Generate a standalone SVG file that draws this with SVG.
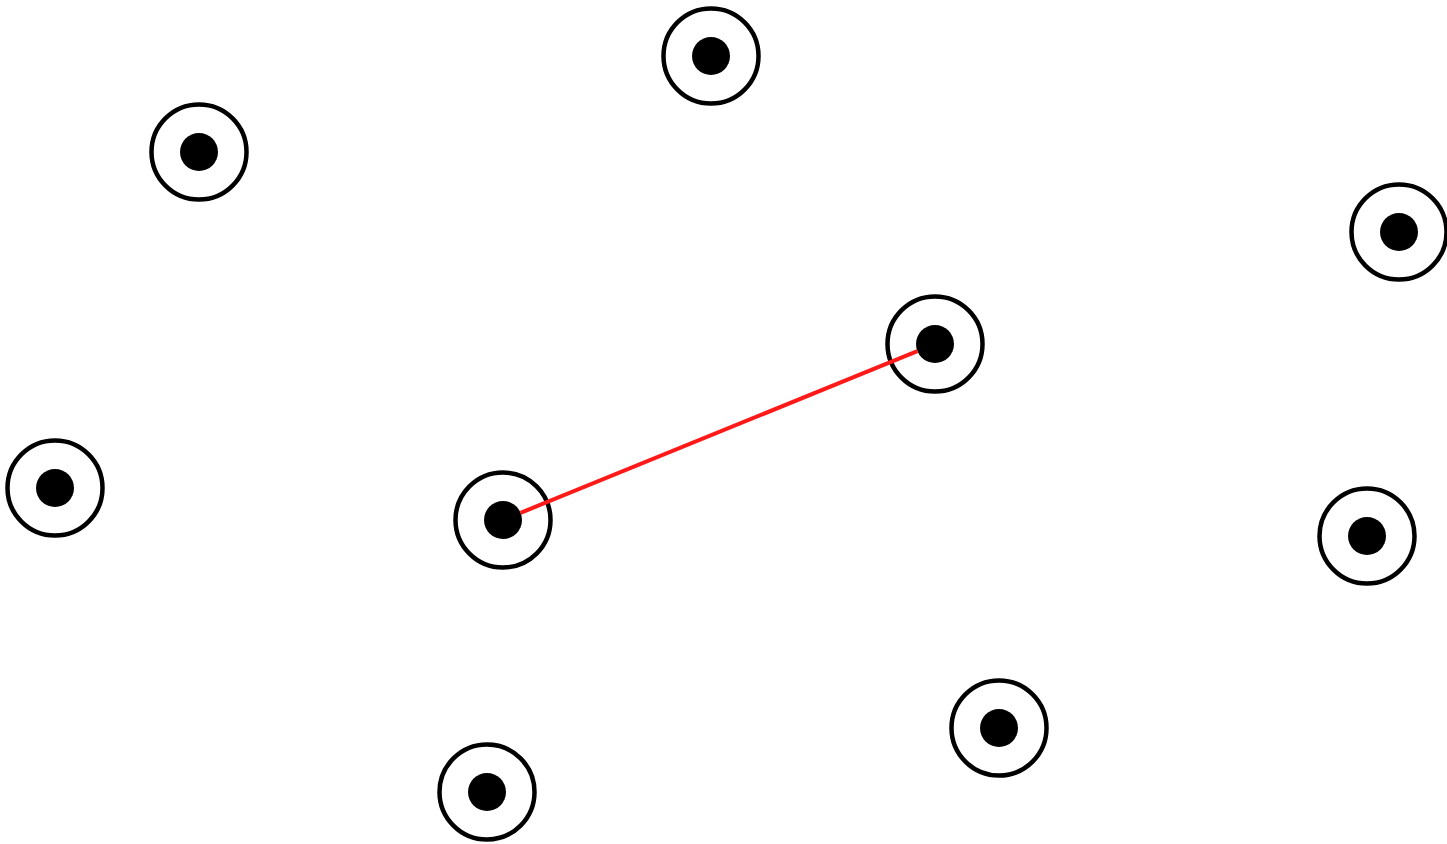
<svg xmlns="http://www.w3.org/2000/svg" width="1447" height="844" viewBox="0 0 1447 844">
<style>
.ring{fill:#fff;stroke:#000;stroke-width:4.5}
.dot{fill:#000}
.edge{stroke:#ff1a1a;stroke-width:4;fill:none}
</style>
<rect width="1447" height="844" fill="#fff"/>
<g id="n1"><circle class="ring" cx="199" cy="152" r="47.5"/><circle class="dot" cx="199" cy="152" r="19"/></g>
<g id="n2"><circle class="ring" cx="711" cy="56" r="47.5"/><circle class="dot" cx="711" cy="56" r="19"/></g>
<g id="n3"><circle class="ring" cx="1399" cy="232" r="47.5"/><circle class="dot" cx="1399" cy="232" r="19"/></g>
<g id="n4"><circle class="ring" cx="935" cy="344" r="47.5"/><circle class="dot" cx="935" cy="344" r="19"/></g>
<g id="n5"><circle class="ring" cx="55" cy="488" r="47.5"/><circle class="dot" cx="55" cy="488" r="19"/></g>
<g id="n6"><circle class="ring" cx="503" cy="520" r="47.5"/><circle class="dot" cx="503" cy="520" r="19"/></g>
<g id="n7"><circle class="ring" cx="1367" cy="536" r="47.5"/><circle class="dot" cx="1367" cy="536" r="19"/></g>
<g id="n8"><circle class="ring" cx="999" cy="728" r="47.5"/><circle class="dot" cx="999" cy="728" r="19"/></g>
<g id="n9"><circle class="ring" cx="487" cy="792" r="47.5"/><circle class="dot" cx="487" cy="792" r="19"/></g>
<g id="connectors"><line class="edge" x1="520.6" y1="512.8" x2="917.4" y2="351.2"/></g>
</svg>
